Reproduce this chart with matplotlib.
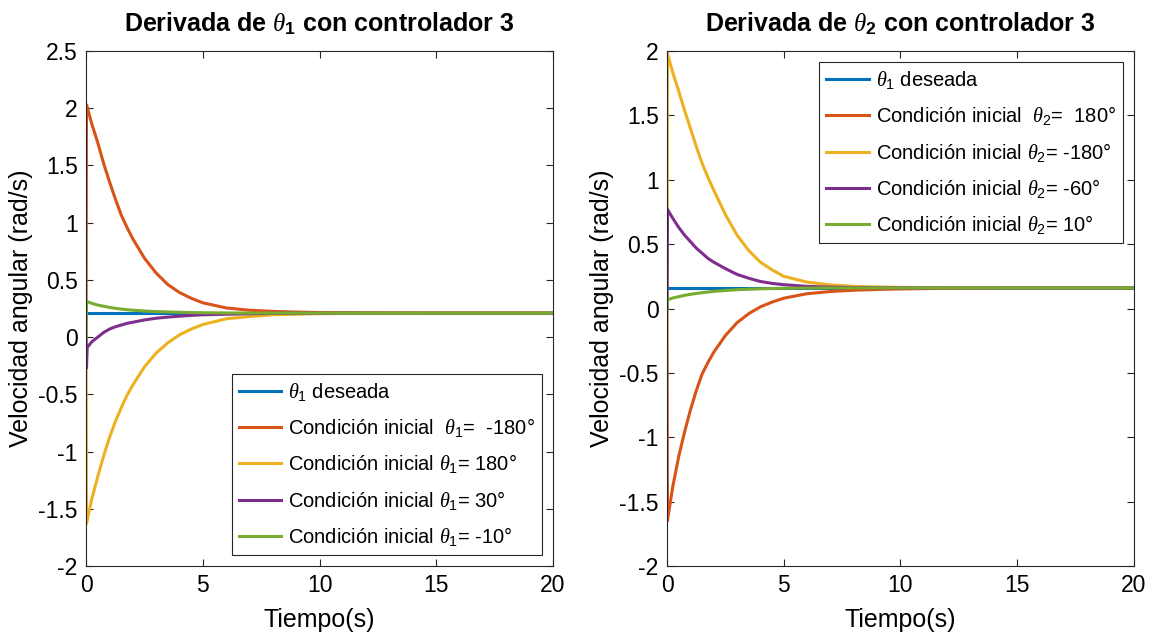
import matplotlib
matplotlib.use("Agg")
import matplotlib.pyplot as plt
from matplotlib.ticker import FuncFormatter

plt.rcParams['font.family'] = ['Liberation Sans', 'DejaVu Sans']
plt.rcParams['mathtext.fontset'] = 'custom'
plt.rcParams['mathtext.rm'] = 'Liberation Sans'
plt.rcParams['mathtext.it'] = 'Liberation Serif:italic'
plt.rcParams['mathtext.bf'] = 'Liberation Sans:bold'
plt.rcParams['axes.unicode_minus'] = False

# colores por defecto de MATLAB
azul = (0.0, 0.447, 0.741)
naranja = (0.850, 0.325, 0.098)
amarillo = (0.929, 0.694, 0.125)
morado = (0.494, 0.184, 0.556)
verde = (0.466, 0.674, 0.188)

# tiempo de muestreo (s), igual para las dos figuras
t = [0, 0.02, 0.05, 0.25, 0.5, 0.75, 1, 1.25, 1.5, 1.75, 2, 2.5, 3, 3.5, 4,
     4.5, 5, 6, 7, 8, 9, 10, 12, 15, 20]

# ---- theta 1 ----
ref1 = [0.21] * len(t)
w1_m180 = [0, 2.03, 2.01, 1.86, 1.70, 1.52, 1.36, 1.21, 1.07, 0.96, 0.86, 0.69, 0.56,
           0.46, 0.39, 0.34, 0.30, 0.255, 0.235, 0.225, 0.219, 0.215, 0.212, 0.21, 0.21]
w1_180 = [0, -1.63, -1.60, -1.41, -1.22, -1.04, -0.88, -0.74, -0.62, -0.51, -0.42, -0.26,
          -0.14, -0.05, 0.02, 0.07, 0.11, 0.16, 0.18, 0.195, 0.2, 0.205, 0.208, 0.21, 0.21]
w1_30 = [0, -0.27, -0.09, -0.04, 0.0, 0.04, 0.07, 0.09, 0.105, 0.12, 0.13, 0.15, 0.165,
         0.175, 0.183, 0.19, 0.195, 0.2, 0.204, 0.207, 0.208, 0.209, 0.21, 0.21, 0.21]
w1_m10 = [0, 0.315, 0.31, 0.295, 0.28, 0.27, 0.26, 0.252, 0.245, 0.24, 0.235, 0.228, 0.223,
          0.22, 0.217, 0.215, 0.213, 0.211, 0.21, 0.21, 0.21, 0.21, 0.21, 0.21, 0.21]

# ---- theta 2 ----
ref2 = [0.16] * len(t)
w2_180 = [0, -1.65, -1.61, -1.38, -1.15, -0.96, -0.79, -0.64, -0.51, -0.42, -0.34, -0.21,
          -0.11, -0.04, 0.013, 0.05, 0.08, 0.115, 0.132, 0.142, 0.148, 0.152, 0.157, 0.16, 0.16]
w2_m180 = [0, 1.98, 1.96, 1.83, 1.69, 1.54, 1.40, 1.26, 1.13, 1.02, 0.92, 0.73, 0.57,
           0.45, 0.36, 0.30, 0.25, 0.205, 0.183, 0.172, 0.167, 0.164, 0.161, 0.16, 0.16]
w2_m60 = [0, 0.77, 0.76, 0.70, 0.63, 0.57, 0.52, 0.47, 0.43, 0.39, 0.36, 0.31, 0.265,
          0.235, 0.21, 0.195, 0.185, 0.172, 0.166, 0.163, 0.162, 0.161, 0.16, 0.16, 0.16]
w2_10 = [0, 0.065, 0.07, 0.082, 0.092, 0.102, 0.11, 0.117, 0.123, 0.128, 0.133, 0.14, 0.146,
         0.15, 0.153, 0.155, 0.157, 0.159, 0.16, 0.16, 0.16, 0.16, 0.16, 0.16, 0.16]

etiq1 = [r'$\theta_1$ deseada',
         r'Condición inicial  $\theta_1$=  -180°',
         r'Condición inicial $\theta_1$= 180°',
         r'Condición inicial $\theta_1$= 30°',
         r'Condición inicial $\theta_1$= -10°']
etiq2 = [r'$\theta_1$ deseada',
         r'Condición inicial  $\theta_2$=  180°',
         r'Condición inicial $\theta_2$= -180°',
         r'Condición inicial $\theta_2$= -60°',
         r'Condición inicial $\theta_2$= 10°']

fig = plt.figure(figsize=(11.55, 6.4), dpi=100)
ax1 = fig.add_axes([0.0745, 0.1156, 0.4043, 0.8047])
ax2 = fig.add_axes([0.5775, 0.1156, 0.4043, 0.8047])

colores = [azul, naranja, amarillo, morado, verde]
gris = (0.15, 0.15, 0.15)
fmt = FuncFormatter(lambda v, p: '%g' % v)


def panel(ax, series, etiquetas, ylim, yticks, titulo, loc):
    for y, c, lab in zip(series, colores, etiquetas):
        ax.plot(t, y, color=c, lw=2.2, label=lab)
    ax.set_xlim(0, 20)
    ax.set_ylim(*ylim)
    ax.set_xticks([0, 5, 10, 15, 20])
    ax.set_yticks(yticks)
    ax.xaxis.set_major_formatter(fmt)
    ax.yaxis.set_major_formatter(fmt)
    ax.tick_params(direction='in', top=True, right=True, length=5, pad=6,
                   labelsize=16.5, colors=gris, labelcolor='black', width=0.8)
    for s in ax.spines.values():
        s.set_color(gris)
        s.set_linewidth(0.8)
    ax.set_xlabel('Tiempo(s)', fontsize=18, labelpad=8)
    ax.set_ylabel('Velocidad angular (rad/s)', fontsize=18)
    ax.set_title(titulo, fontsize=18, fontweight='bold', pad=14)
    leg = ax.legend(loc=loc, fontsize=14.5, handlelength=2.1, handletextpad=0.35,
                    labelspacing=0.66, borderaxespad=0.55, fancybox=False,
                    framealpha=1, borderpad=0.35)
    leg.get_frame().set_edgecolor(gris)
    leg.get_frame().set_linewidth(0.8)


panel(ax1, [ref1, w1_m180, w1_180, w1_30, w1_m10], etiq1, (-2, 2.5),
      [-2, -1.5, -1, -0.5, 0, 0.5, 1, 1.5, 2, 2.5],
      r'Derivada de $\theta_{\mathbf{1}}$ con controlador 3', 'lower right')
panel(ax2, [ref2, w2_180, w2_m180, w2_m60, w2_10], etiq2, (-2, 2),
      [-2, -1.5, -1, -0.5, 0, 0.5, 1, 1.5, 2],
      r'Derivada de $\theta_{\mathbf{2}}$ con controlador 3', 'upper right')

fig.savefig('out.png', dpi=100)
